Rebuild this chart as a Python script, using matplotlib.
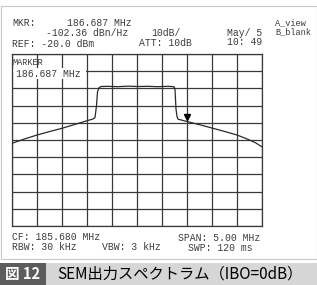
import matplotlib
matplotlib.use("Agg")
import matplotlib.pyplot as plt
from matplotlib.patches import Rectangle

# ---- data ----
center_mhz = 185.680
span_mhz = 5.00
ref_db = -20.0
db_per_div = 10.0

trace_freq = [183.18, 183.43, 183.68, 183.93, 184.18, 184.43, 184.68, 184.80, 184.84,
              184.87, 184.89, 184.92, 184.96, 185.10, 185.30, 185.50, 185.70, 185.90,
              186.10, 186.30, 186.42, 186.44, 186.46, 186.48, 186.50, 186.74, 186.97,
              187.20, 187.44, 187.68, 187.90, 188.05, 188.18]
trace_db = [-71.9, -69.4, -67.1, -65.1, -63.2, -61.0, -58.8, -57.8, -57.0,
            -50.0, -42.0, -39.6, -38.9, -38.8, -39.0, -38.7, -38.9, -38.8,
            -39.0, -38.8, -39.0, -40.5, -52.0, -56.3, -57.9, -59.7, -61.4,
            -63.2, -65.1, -67.1, -69.6, -71.6, -74.0]

marker_freq = 186.687
marker_db = -56.9

header_lines = ["MKR:", "186.687 MHz", "-102.36 dBn/Hz", "REF: -20.0 dBm",
                "10dB/", "ATT: 10dB", "May/ 5", "10: 49", "A_view", "B_blank"]
footer_lines = ["CF: 185.680 MHz", "RBW: 30 kHz", "VBW: 3 kHz",
                "SPAN: 5.00 MHz", "SWP: 120 ms"]
marker_label = ["MARKER", "186.687 MHz"]
fig_no = "図 12"
caption = "SEM出力スペクトラム（IBO=0dB）"

# ---- figure ----
W, H = 317, 285
fig = plt.figure(figsize=(W / 100, H / 100), dpi=100)
fig.patch.set_facecolor("white")


def P(x, y):
    return x / W, 1 - y / H


# frame of the screenshot
fig.patches.append(Rectangle(P(0.5, 259), 316 / W, 253 / H, transform=fig.transFigure,
                             fill=False, edgecolor="#c8c8c8", linewidth=0.8))

# caption band
fig.patches.append(Rectangle(P(0, 285), 1, 22.5 / H, transform=fig.transFigure,
                             facecolor="#d6d6d6", edgecolor="none"))
fig.patches.append(Rectangle(P(0, 285), 46 / W, 22.5 / H, transform=fig.transFigure,
                             facecolor="#5c5c5c", edgecolor="none"))
fig.text(*P(23, 274), fig_no, color="white", fontsize=10.5, fontweight="bold",
         family=["Noto Sans CJK JP", "DejaVu Sans"], ha="center", va="center")
fig.text(*P(57, 274), caption, color="black", fontsize=11,
         family=["Noto Sans CJK JP", "DejaVu Sans"], ha="left", va="center")

# spectrum grid axes
left, top, right, bottom = 12, 54, 262, 226
ax = fig.add_axes([left / W, 1 - bottom / H, (right - left) / W, (bottom - top) / H])
x0 = center_mhz - span_mhz / 2
x1 = center_mhz + span_mhz / 2
y1 = ref_db
y0 = ref_db - 10 * db_per_div
ax.set_xlim(x0, x1)
ax.set_ylim(y0, y1)
ax.set_xticks([x0 + i * span_mhz / 10 for i in range(11)])
ax.set_yticks([y0 + i * db_per_div for i in range(11)])
ax.tick_params(length=0, labelbottom=False, labelleft=False)
ax.grid(True, color="#3a3a3a", linewidth=0.9)
for s in ax.spines.values():
    s.set_color("#3a3a3a")
    s.set_linewidth(0.9)

# white strip hiding the grid row line behind the marker label
ax.add_patch(Rectangle((x0 + 0.01, -31.2), 1.48, 2.4, facecolor="white",
                       edgecolor="none", zorder=2))

ax.plot(trace_freq, trace_db, color="#2a2a2a", linewidth=0.9, zorder=3)
ax.plot([marker_freq], [marker_db], marker="v", color="black", markersize=5, zorder=4)

mono = "Liberation Mono"
tc = "#3c3c3c"
fs = 7.0

ax.text(0.003, 0.95, marker_label[0], transform=ax.transAxes, family=mono,
        fontsize=6.2, color=tc, ha="left", va="center", zorder=5)
ax.text(0.018, 0.885, marker_label[1], transform=ax.transAxes, family=mono,
        fontsize=fs, color=tc, ha="left", va="center", zorder=5,
        bbox=dict(facecolor="white", edgecolor="none", pad=0.3))

# header text
fig.text(*P(12, 23), header_lines[0], family=mono, fontsize=fs, color=tc, va="center")
fig.text(*P(132, 23), header_lines[1], family=mono, fontsize=fs, color=tc, va="center", ha="right")
fig.text(*P(128, 33), header_lines[2], family=mono, fontsize=fs, color=tc, va="center", ha="right")
fig.text(*P(12, 44), header_lines[3], family=mono, fontsize=fs, color=tc, va="center")
fig.text(*P(151, 33), header_lines[4], family=mono, fontsize=fs, color=tc, va="center")
fig.text(*P(192, 43), header_lines[5], family=mono, fontsize=fs, color=tc, va="center", ha="right")
fig.text(*P(262, 33), header_lines[6], family=mono, fontsize=fs, color=tc, va="center", ha="right")
fig.text(*P(262, 42), header_lines[7], family=mono, fontsize=fs, color=tc, va="center", ha="right")
fig.text(*P(275, 23), header_lines[8], family=mono, fontsize=6.2, color=tc, va="center")
fig.text(*P(275, 32), header_lines[9], family=mono, fontsize=6.2, color=tc, va="center")

# footer text
fig.text(*P(12, 237), footer_lines[0], family=mono, fontsize=fs, color=tc, va="center")
fig.text(*P(12, 247), footer_lines[1], family=mono, fontsize=fs, color=tc, va="center")
fig.text(*P(102, 247), footer_lines[2], family=mono, fontsize=fs, color=tc, va="center")
fig.text(*P(260, 238), footer_lines[3], family=mono, fontsize=fs, color=tc, va="center", ha="right")
fig.text(*P(253, 248), footer_lines[4], family=mono, fontsize=fs, color=tc, va="center", ha="right")

fig.savefig("out.png", dpi=100, facecolor="white")
